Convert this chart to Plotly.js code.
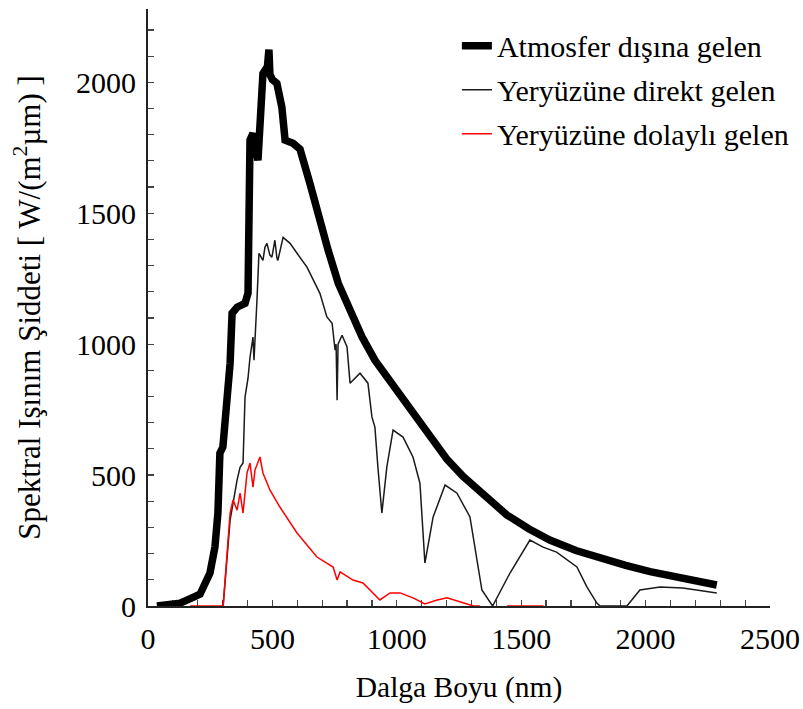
<!DOCTYPE html>
<html>
<head>
<meta charset="utf-8">
<script src="https://cdn.plot.ly/plotly-3.0.1.min.js"></script>
<style>html,body{margin:0;padding:0;background:#fff;}#chart{width:803px;height:709px;}</style>
</head>
<body>
<div id="chart"></div>
<script>
// Atmosfer dışına gelen (extraterrestrial)
const extX = [36, 80, 129, 170, 209, 249, 269, 281, 289, 301, 317, 330, 338, 358, 390, 402, 410, 422, 432, 442, 462, 480, 486, 490, 500, 518, 538, 551, 583, 611, 651, 684, 724, 765, 812, 860, 912, 973, 1013, 1041, 1093, 1133, 1202, 1266, 1360, 1442, 1530, 1615, 1720, 1817, 1920, 2018, 2150, 2286];
const extY = [0, 3, 11, 28, 45, 126, 225, 355, 584, 607, 760, 927, 1118, 1141, 1156, 1195, 1779, 1805, 1750, 1702, 2034, 2060, 2125, 2030, 2010, 1996, 1905, 1779, 1767, 1745, 1613, 1486, 1359, 1232, 1130, 1028, 939, 858, 805, 770, 700, 645, 560, 495, 415, 348, 295, 252, 212, 182, 155, 131, 105, 80];

// Yeryüzüne direkt gelen (direct)
const dirX = [302, 330, 358, 370, 382, 390, 402, 410, 422, 426, 438, 446, 462, 470, 478, 490, 498, 510, 518, 522, 543, 571, 599, 639, 691, 719, 740, 752, 756, 760, 764, 780, 800, 812, 852, 884, 900, 912, 924, 940, 960, 985, 1025, 1065, 1093, 1113, 1146, 1194, 1242, 1294, 1342, 1385, 1455, 1535, 1588, 1642, 1724, 1764, 1804, 1817, 1925, 1977, 2058, 2150, 2286];
const dirY = [0, 328, 481, 530, 546, 798, 870, 950, 1027, 939, 1168, 1347, 1320, 1370, 1385, 1340, 1332, 1397, 1330, 1320, 1408, 1385, 1347, 1294, 1194, 1104, 1080, 977, 1000, 786, 1000, 1034, 989, 851, 889, 851, 722, 683, 531, 355, 531, 672, 645, 569, 469, 164, 340, 462, 431, 340, 61, 0, 126, 252, 225, 206, 149, 73, 11, 0, 0, 61, 73, 69, 50];

// Yeryüzüne dolaylı gelen (diffuse)
const difX = [169, 302, 330, 342, 358, 370, 382, 398, 410, 422, 430, 450, 462, 490, 530, 599, 679, 744, 760, 772, 824, 864, 932, 973, 1013, 1065, 1113, 1162, 1202, 1254, 1308, 1334, 1390, 1443, 1590];
const difY = [0, 0, 355, 405, 366, 431, 355, 508, 546, 454, 519, 569, 508, 443, 378, 279, 187, 149, 99, 130, 99, 88, 23, 50, 50, 31, 8, 23, 31, 15, 0, 0, null, 0, 0];

const seriesNames = ['Atmosfer dışına gelen', 'Yeryüzüne direkt gelen', 'Yeryüzüne dolaylı gelen'];
const xTickVals = [0, 500, 1000, 1500, 2000, 2500];
const yTickVals = [0, 500, 1000, 1500, 2000];

const FONT = "'Liberation Serif', 'Times New Roman', serif";

const traces = [
  {x: extX, y: extY, name: seriesNames[0], mode: 'lines', legendgroup: 'a',
   line: {color: '#000000', width: 7.5}},
  {x: dirX, y: dirY, name: seriesNames[1], mode: 'lines', legendgroup: 'b',
   line: {color: '#1a1a1a', width: 1.5}},
  {x: difX, y: difY, name: seriesNames[2], mode: 'lines', legendgroup: 'c', connectgaps: false,
   line: {color: '#ff0000', width: 1.5}}
];

const axisCommon = {
  showgrid: false, zeroline: false, showline: true, linecolor: '#222', linewidth: 2,
  ticks: 'inside', ticklen: 6, tickcolor: '#444', tickwidth: 1.2,
  tickfont: {family: FONT, size: 30, color: '#000'},
  layer: 'below traces'
};

const layout = {
  width: 803, height: 709,
  margin: {l: 148, r: 33, t: 9, b: 103},
  paper_bgcolor: '#ffffff', plot_bgcolor: '#ffffff',
  font: {family: FONT, color: '#000'},
  showlegend: true,
  legend: {x: 0.4966, y: 0.982, xanchor: 'left', yanchor: 'top', bgcolor: 'rgba(0,0,0,0)',
           font: {family: FONT, size: 30, color: '#000'}, traceorder: 'grouped', tracegroupgap: 2},
  xaxis: Object.assign({}, axisCommon, {
    range: [0, 2500], tickmode: 'array', tickvals: xTickVals, ticktext: xTickVals.map(String),
    ticklabelstandoff: 5,
    minor: {dtick: 100, ticks: 'inside', ticklen: 6, tickcolor: '#444', tickwidth: 1.2},
    title: {text: 'Dalga Boyu (nm)', font: {family: FONT, size: 29.5, color: '#000'}, standoff: 22}
  }),
  yaxis: Object.assign({}, axisCommon, {
    range: [0, 2280], tickmode: 'array', tickvals: yTickVals, ticktext: yTickVals.map(String),
    ticklabelstandoff: 4,
    minor: {dtick: 100, ticks: 'inside', ticklen: 6, tickcolor: '#444', tickwidth: 1.2},
    title: {text: 'Spektral Işınım Şiddeti [ W/(m<sup>2</sup>µm) ]', font: {family: FONT, size: 31, color: '#000'}, standoff: 26}
  })
};

Plotly.newPlot('chart', traces, layout, {displayModeBar: false, staticPlot: true});
</script>
</body>
</html>
